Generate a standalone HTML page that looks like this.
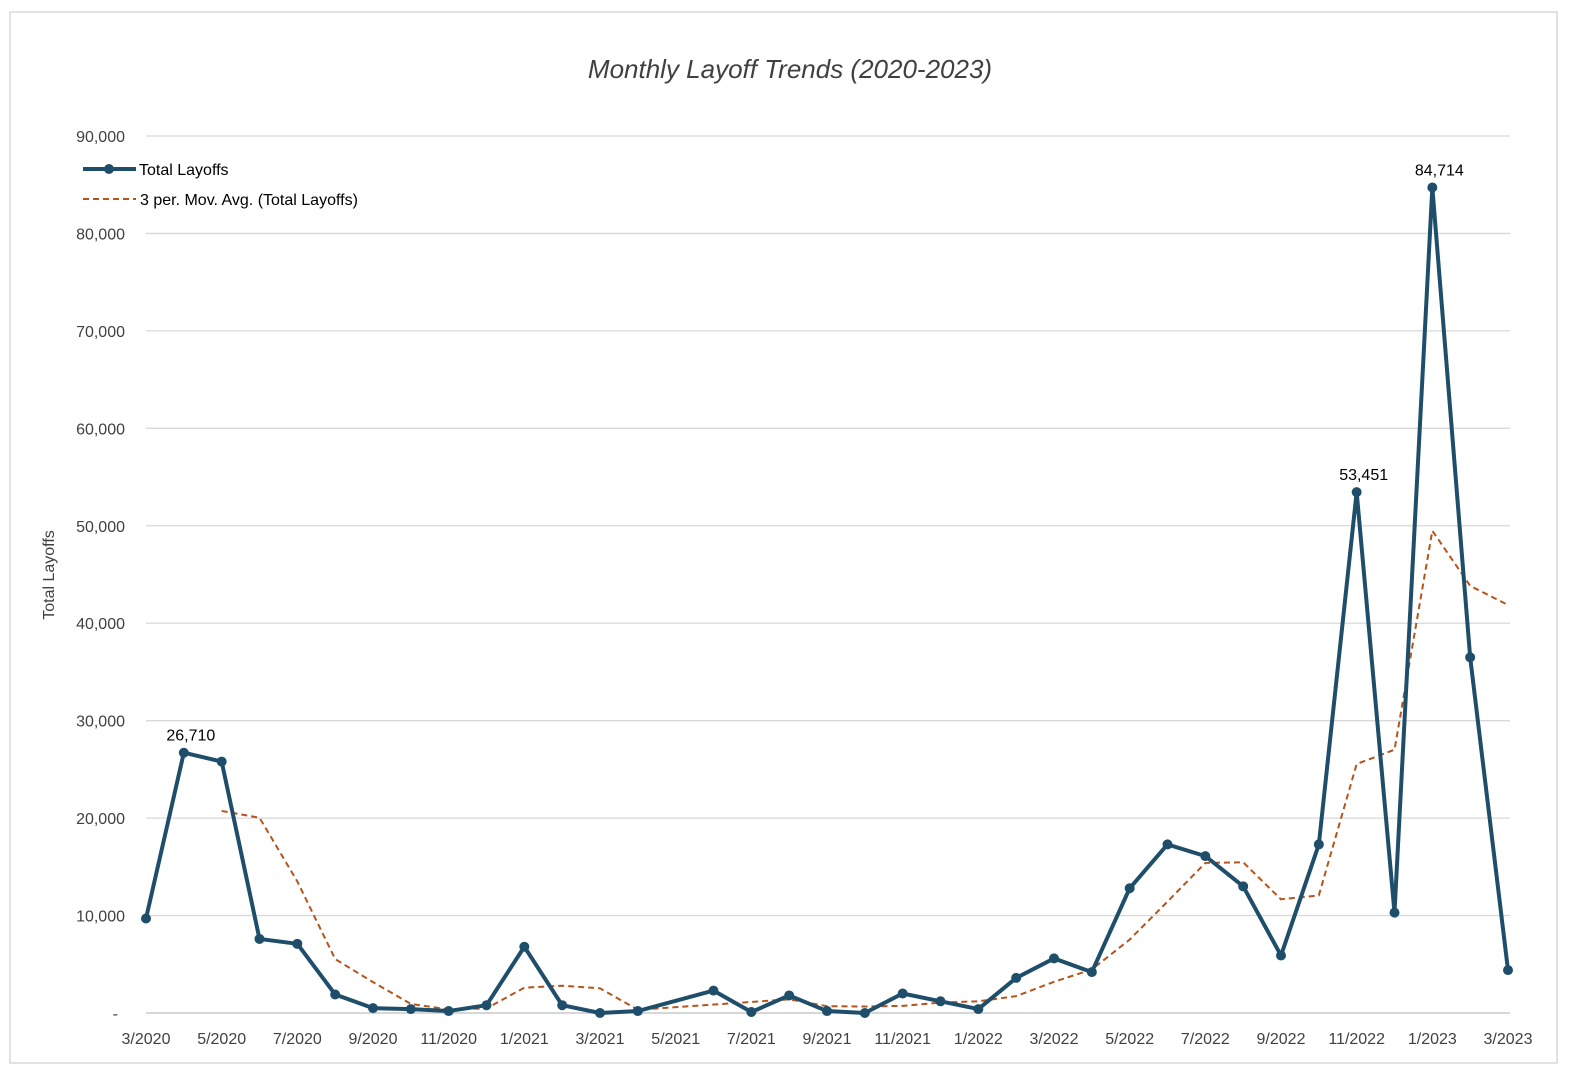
<!DOCTYPE html>
<html><head><meta charset="utf-8"><style>
body{margin:0;background:#fff;font-family:"Liberation Sans",sans-serif}
svg{display:block}
</style></head><body>
<svg id="chart" width="1578" height="1080">
<rect x="10" y="12" width="1547" height="1051" fill="#fff" stroke="#d9d9d9" stroke-width="1.5"/>
<text x="790" y="78" text-anchor="middle" font-size="26" font-style="italic" fill="#404040">Monthly Layoff Trends (2020-2023)</text>
<text transform="translate(54,575) rotate(-90)" text-anchor="middle" font-size="16" fill="#404040">Total Layoffs</text>
<g id="grid"></g><g id="ylabels"></g><g id="xlabels"></g><g id="series"></g>
<g>
<line x1="83" y1="169" x2="136" y2="169" stroke="#1f4e6b" stroke-width="4"/>
<circle cx="109" cy="169" r="5" fill="#1f4e6b"/>
<text x="139" y="175" font-size="16" fill="#000">Total Layoffs</text>
<line x1="83" y1="199" x2="136" y2="199" stroke="#b5541c" stroke-width="2" stroke-dasharray="6,4"/>
<text x="140" y="205" font-size="16" fill="#000">3 per. Mov. Avg. (Total Layoffs)</text>
</g>
</svg>
<script>
const months = ["3/2020","4/2020","5/2020","6/2020","7/2020","8/2020","9/2020","10/2020","11/2020","12/2020","1/2021","2/2021","3/2021","4/2021","5/2021","6/2021","7/2021","8/2021","9/2021","10/2021","11/2021","12/2021","1/2022","2/2022","3/2022","4/2022","5/2022","6/2022","7/2022","8/2022","9/2022","10/2022","11/2022","12/2022","1/2023","2/2023","3/2023"];
const layoffs = [9700,26710,25800,7600,7100,1900,500,400,200,800,6800,800,0,200,null,2300,100,1800,200,0,2000,1200,400,3600,5600,4200,12800,17300,16100,13000,5900,17300,53451,10300,84714,36500,4400];
const yTicks = [0,10000,20000,30000,40000,50000,60000,70000,80000,90000];
const labeled = ["4/2020","11/2022","1/2023"];
const NS="http://www.w3.org/2000/svg";
const x0=146,x1=1508,y0=1013,y1=136,ymax=90000;
const X=i=>x0+(x1-x0)*i/(months.length-1);
const Y=v=>y0-(y0-y1)*v/ymax;
function mk(tag,attrs,parent,text){const e=document.createElementNS(NS,tag);for(const k in attrs)e.setAttribute(k,attrs[k]);if(text!==undefined)e.textContent=text;document.getElementById(parent).appendChild(e);return e;}
const fmt=v=>v===0?"-":v.toLocaleString("en-US");
yTicks.forEach(t=>{
  const g=mk("line",{x1:146,x2:1510,y1:Y(t),y2:Y(t),stroke:t===0?"#bfbfbf":"#d9d9d9","stroke-width":1.3},"grid");
  
  
  const l=mk("text",{x:t===0?118:125,y:Y(t)+6,"text-anchor":"end","font-size":16,fill:"#404040"},"ylabels",fmt(t));
  
  
});
months.forEach((m,i)=>{
  if(i%2!==0)return;
  const l=mk("text",{x:X(i),y:1044,"text-anchor":"middle","font-size":16,fill:"#404040"},"xlabels",m);
  
  
});
const ma=[];
for(let i=2;i<layoffs.length;i++){const w=[layoffs[i-2],layoffs[i-1],layoffs[i]];if(w.includes(null))continue;ma.push([i,(w[0]+w[1]+w[2])/3]);}
const maPath=mk("path",{d:ma.map((p,k)=>(k?"L":"M")+X(p[0])+","+Y(p[1])).join(""),fill:"none",stroke:"#b5541c","stroke-width":2,"stroke-dasharray":"6,4"},"series");


const pts=layoffs.map((v,i)=>[i,v]).filter(p=>p[1]!==null);
const line=mk("path",{d:pts.map((p,k)=>(k?"L":"M")+X(p[0])+","+Y(p[1])).join(""),fill:"none",stroke:"#1f4e6b","stroke-width":4,"stroke-linejoin":"round"},"series");


pts.forEach(p=>{
  const c=mk("circle",{cx:X(p[0]),cy:Y(p[1]),r:5,fill:"#1f4e6b"},"series");
  
  
  if(labeled.includes(months[p[0]])){
    const t=mk("text",{x:X(p[0])+7,y:Y(p[1])-12,"text-anchor":"middle","font-size":16,fill:"#000"},"series",p[1].toLocaleString("en-US"));
    
    
  }
});
</script>
</body></html>
